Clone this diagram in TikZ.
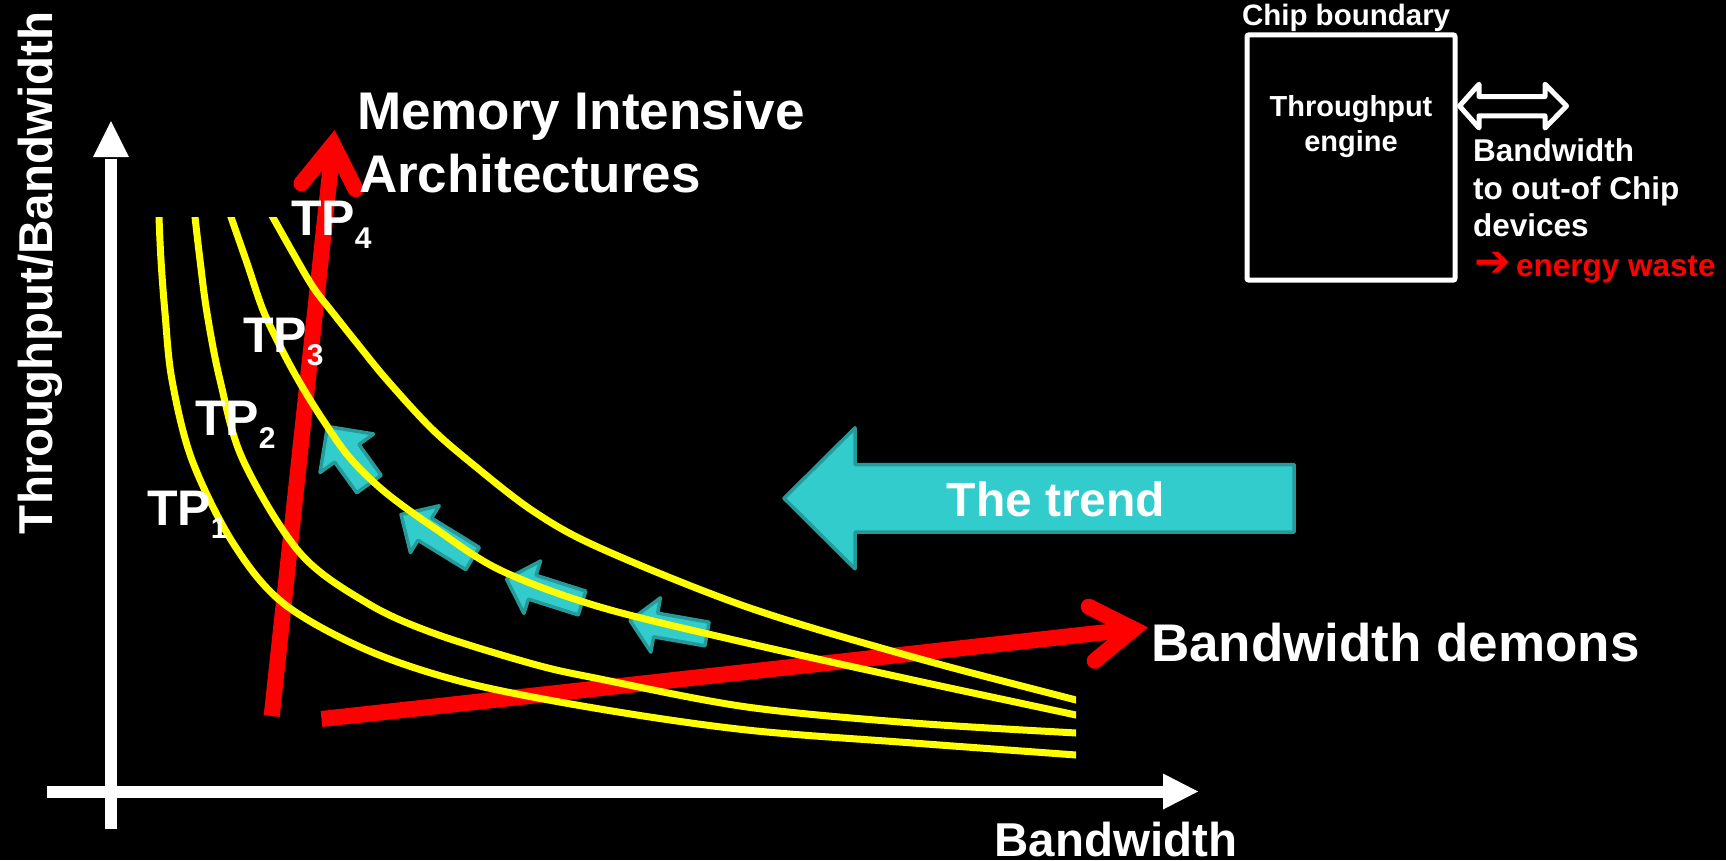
\documentclass[tikz,border=0pt]{standalone}
\usepackage{fontspec}
\setmainfont{Liberation Sans}
\newfontfamily\arrowfont{DejaVu Sans}
\usetikzlibrary{calc}

\definecolor{trendfill}{HTML}{33CCCC}
\definecolor{trendline}{HTML}{269999}
\definecolor{curveyellow}{HTML}{FFFF00}
\definecolor{hotred}{HTML}{FF0000}

\newcommand{\sz}[1]{\fontsize{#1}{#1}\selectfont}
\newcommand{\tpsub}[1]{\raisebox{-13pt}{\sz{30}#1}}

% block arrow: name, tip, tail, head length, head half width, shaft half width
\newcommand{\trendshape}[6]{%
  \coordinate (#1-tip) at #2;
  \coordinate (#1-tail) at #3;
  \coordinate (#1-base) at ($(#1-tip)!#4!(#1-tail)$);
  \filldraw[trendarrow] (#1-tip)
    -- ($(#1-base)!#5!90:(#1-tip)$)
    -- ($(#1-base)!#6!90:(#1-tip)$)
    -- ($(#1-tail)!#6!90:(#1-tip)$)
    -- ($(#1-tail)!#6!-90:(#1-tip)$)
    -- ($(#1-base)!#6!-90:(#1-tip)$)
    -- ($(#1-base)!#5!-90:(#1-tip)$)
    -- cycle;
}

% thick red arrow with an open chevron head: name (tail and tip already defined)
\newcommand{\chevronarrow}[1]{%
  \coordinate (#1-v) at ($(#1-tip)!14.7pt!(#1-tail)$);
  \draw[redshaft] (#1-tail) -- (#1-v);
  \draw[redhead] ($(#1-v)!50pt!33:(#1-tail)$) -- (#1-v) -- ($(#1-v)!50pt!-33:(#1-tail)$);
}

\tikzset{
  lbl/.style={inner sep=0pt, outer sep=0pt, text=white, anchor=base west},
  axisline/.style={white, line width=12pt},
  tpcurve/.style={curveyellow, line width=7pt},
  redshaft/.style={hotred, line width=16pt},
  redhead/.style={hotred, line width=16pt, line cap=round, line join=miter},
  trendarrow/.style={fill=trendfill, draw=trendline, line width=3.5pt, line join=round},
}

\begin{document}
\begin{tikzpicture}[x=1pt,y=-1pt]
\path[use as bounding box, fill=black] (0,0) rectangle (1726,860);

% --- the trend (big block arrow) ---
\trendshape{trend}{(784,498.3)}{(1294,498.3)}{71pt}{70.5pt}{33.8pt}
\node[lbl, anchor=base, font=\bfseries\sz{48}] (trendtext) at (1056,516) {The trend};

% --- small step arrows along TP3 ---
\trendshape{stepA}{(327.5,426.5)}{(369,484)}{33pt}{33pt}{15pt}
\trendshape{stepB}{(401,514.5)}{(472.5,558.5)}{28pt}{27.5pt}{13pt}
\trendshape{stepC}{(506.5,579)}{(582,603)}{27pt}{27.5pt}{12.5pt}
\trendshape{stepD}{(630,620.5)}{(707,634)}{26pt}{27.5pt}{12pt}

% --- red arrows ---
\coordinate (mem-tail) at (271.7,716);
\coordinate (mem-tip) at (334.6,130);
\chevronarrow{mem}
\coordinate (bw-tail) at (321.5,719);
\coordinate (bw-tip) at (1148,627.5);
\chevronarrow{bw}

% --- iso-throughput curves ---
\begin{scope}
  \clip (0,217) rectangle (1076,860);
  \draw[tpcurve] plot[smooth, tension=0.55] coordinates {(158.5,195) (159,217) (161,260) (165,313) (172,380) (192,460) (233,543) (283,603) (367,650) (467,683) (600,709) (747,730) (913,743) (1076,755) (1100,757)};
  \draw[tpcurve] plot[smooth, tension=0.55] coordinates {(192.5,195) (195,217) (200,260) (207,313) (220,380) (243,460) (300,553) (367,603) (433,633) (533,664) (600,679) (747,707) (913,723) (1076,733) (1100,734.5)};
  \draw[tpcurve] plot[smooth, tension=0.55] coordinates {(224,196) (231,217) (247,263) (263,310) (281,348) (300,383) (323,420) (350,458) (385,492) (433,527) (500,570) (600,607) (747,643) (913,680) (1076,715) (1100,720)};
  \draw[tpcurve] plot[smooth, tension=0.55] coordinates {(262,198) (272.7,217) (293,253) (313,287) (333,313) (360,347) (387,380) (430,427) (470,462) (533,511) (600,548) (747,607) (913,657) (1076,700) (1100,706)};
\end{scope}

% --- axes ---
\coordinate (yfoot) at (111,829);
\coordinate (ybase) at (111,157);
\coordinate (ytip) at (111,121);
\draw[axisline] (yfoot) -- ($(ybase)+(0,2)$);
\fill[white] (ytip) -- ($(ybase)+(-18,0)$) -- ($(ybase)+(18,0)$) -- cycle;
\coordinate (xfoot) at (47,791.5);
\coordinate (xbase) at (1163,791.5);
\coordinate (xtip) at (1198,791.5);
\draw[axisline] (xfoot) -- ($(xbase)+(2,0)$);
\fill[white] (xtip) -- ($(xbase)+(0,-18)$) -- ($(xbase)+(0,18)$) -- cycle;

\node[lbl, rotate=90, font=\bfseries\sz{47.5}] (ylabel) at (52,534) {Throughput/Bandwidth};
\node[lbl, font=\bfseries\sz{47.5}] (xlabel) at (994.5,856) {Bandwidth};

% --- curve labels ---
\node[lbl, font=\bfseries\sz{50}] (tp1) at (147,525) {TP\tpsub{1}};
\node[lbl, font=\bfseries\sz{50}] (tp2) at (195,435) {TP\tpsub{2}};
\node[lbl, font=\bfseries\sz{50}] (tp3) at (243,352) {TP\tpsub{3}};
\node[lbl, font=\bfseries\sz{50}] (tp4) at (291,235) {TP\tpsub{4}};

% --- arrow captions ---
\node[lbl, font=\bfseries\sz{53}] (mem1) at (357,129.3) {Memory Intensive};
\node[lbl, font=\bfseries\sz{53}] (mem2) at (359,192.7) {Architectures};
\node[lbl, font=\bfseries\sz{53}] (demons) at (1151,661) {Bandwidth demons};

% --- chip inset ---
\node[draw=white, line width=5pt, rounded corners=2pt, minimum width=208pt, minimum height=245.4pt, inner sep=0pt] (chip) at (1351,157.5) {};
\node[lbl, font=\bfseries\sz{29.5}] (chiplbl) at (1242,25) {Chip boundary};
\node[lbl, anchor=base, font=\bfseries\sz{29}] (engine1) at (1351,116.7) {Throughput};
\node[lbl, anchor=base, font=\bfseries\sz{29}] (engine2) at (1351,151.7) {engine};
\draw[white, fill=black, line width=5pt, line join=round]
  (1459.5,106) -- (1479,84.2) -- (1479,96.5) -- (1545,96.5) -- (1545,84.2) -- (1566.5,106)
  -- (1545,128) -- (1545,115.8) -- (1479,115.8) -- (1479,128) -- cycle;
\node[lbl, font=\bfseries\sz{31.5}] (bwline1) at (1473,161.7) {Bandwidth};
\node[lbl, font=\bfseries\sz{31.5}] (bwline2) at (1473,199.3) {to out-of Chip};
\node[lbl, font=\bfseries\sz{31.5}] (bwline3) at (1473,236.7) {devices};
\node[lbl, text=hotred, font=\bfseries\sz{31.5}] (waste) at (1474,276) {\makebox[42pt][l]{\arrowfont\bfseries\sz{44}➔}energy waste};
\end{tikzpicture}
\end{document}
